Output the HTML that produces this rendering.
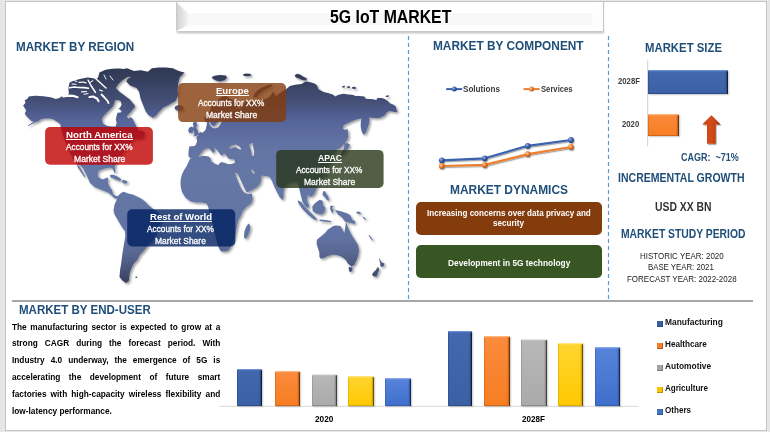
<!DOCTYPE html>
<html><head><meta charset="utf-8"><style>
html,body{margin:0;padding:0;width:770px;height:432px;overflow:hidden;background:#e6e6e6}
.t{position:absolute;white-space:nowrap;font-family:"Liberation Sans",sans-serif;transform-origin:0 0}
#frame{position:absolute;left:5px;top:1px;width:762px;height:430px;box-sizing:border-box;border:1px solid #c4c4c4;background:#fff}
.box{position:absolute;border-radius:5px}
</style></head><body>
<div id="frame"></div>
<svg style="position:absolute;left:0;top:0" width="770" height="432" viewBox="0 0 770 432">
 <defs>
  <linearGradient id="bevL" x1="0" x2="1" y1="0" y2="0"><stop offset="0" stop-color="#cfcfcf"/><stop offset="1" stop-color="#f3f3f3"/></linearGradient>
  <filter id="blur1" x="-5%" y="-50%" width="110%" height="200%"><feGaussianBlur stdDeviation="0.8"/></filter>
 </defs>
 <!-- title bevel -->
 <rect x="177" y="30.5" width="427" height="2.5" fill="#b0b0b0" filter="url(#blur1)"/>
 <rect x="176" y="2" width="428" height="29" fill="#fff"/>
 <polygon points="188,13 592,13 592,25.5 188,25.5" fill="#f8f8f8"/>
 <polygon points="176,2 188,13 188,25.5 176,31" fill="url(#bevL)"/>
 <polygon points="604,2 592,13 592,25.5 604,31" fill="#fdfdfd"/>
 <line x1="176.5" y1="2" x2="176.5" y2="31" stroke="#c8c8c8" stroke-width="1"/>
 <line x1="603.6" y1="2" x2="603.6" y2="31" stroke="#c0c0c0" stroke-width="1"/>
 <!-- dashed separators -->
 <line x1="408.5" y1="36" x2="408.5" y2="299" stroke="#5b9bd5" stroke-width="1.2" stroke-dasharray="4 3"/>
 <line x1="608.5" y1="36" x2="608.5" y2="299" stroke="#5b9bd5" stroke-width="1.2" stroke-dasharray="4 3"/>
 <line x1="12" y1="301" x2="753" y2="301" stroke="#a6a6a6" stroke-width="2"/>
 <!-- market size axis -->
 <line x1="647.7" y1="60.5" x2="647.7" y2="146.4" stroke="#d0d0d0" stroke-width="1"/>
 <!-- bar chart axis -->
 <line x1="219.3" y1="406.3" x2="638.6" y2="406.3" stroke="#d9d9d9" stroke-width="1"/>
 
 <defs>
  <linearGradient id="mapg" gradientUnits="userSpaceOnUse" x1="0" y1="66" x2="0" y2="286">
   <stop offset="0" stop-color="#2e3752"/>
   <stop offset="0.07" stop-color="#37405f"/>
   <stop offset="0.16" stop-color="#444f76"/>
   <stop offset="0.25" stop-color="#56659a"/>
   <stop offset="0.36" stop-color="#6273a3"/>
   <stop offset="0.5" stop-color="#6577a5"/>
   <stop offset="0.78" stop-color="#6172a2"/>
   <stop offset="0.86" stop-color="#57658f"/>
   <stop offset="0.91" stop-color="#4b577f"/>
   <stop offset="0.96" stop-color="#3e4868"/>
   <stop offset="1" stop-color="#313950"/>
  </linearGradient>
  <filter id="chs" x="-20%" y="-20%" width="140%" height="140%"><feGaussianBlur stdDeviation="0.35"/></filter>
  <filter id="msh" x="-5%" y="-5%" width="110%" height="110%"><feDropShadow dx="1.6" dy="1.6" stdDeviation="0.9" flood-color="#000" flood-opacity="0.4"/></filter>
 </defs>
 <g filter="url(#msh)">
  <path d="M23.1,105.5 L25.5,103.1 L24.7,100.3 L27.2,99.0 L28.8,96.6 L35.3,95.8 L43.4,96.2 L51.5,97.4 L55.5,99.0 L58.8,98.2 L61.8,96.4 L64.4,96.0 L67.0,96.8 L68.9,93.2 L68.4,88.0 L69.5,82.8 L73.4,80.8 L79.9,78.9 L83.8,78.2 L87.7,77.6 L92.9,78.2 L96.4,78.9 L98.1,77.6 L99.4,72.4 L105.5,69.8 L112.0,68.8 L118.4,68.5 L124.0,69.0 L128.0,71.0 L131.0,74.5 L131.0,76.5 L127.0,77.3 L122.8,80.0 L118.4,84.1 L115.8,88.0 L119.7,91.9 L124.5,95.5 L127.5,97.8 L130.1,99.7 L132.5,102.8 L134.5,105.0 L135.0,107.0 L133.3,108.7 L130.8,112.0 L128.3,114.5 L126.7,116.2 L128.3,118.7 L130.8,117.0 L132.5,118.7 L134.2,122.0 L135.8,125.3 L137.0,128.0 L138.9,131.0 L141.0,130.2 L144.7,132.5 L144.5,136.5 L141.0,139.2 L137.0,138.8 L133.2,139.7 L129.7,144.3 L125.0,150.0 L121.6,154.7 L118.1,159.3 L115.8,164.0 L114.7,166.2 L115.2,170.0 L115.5,173.0 L114.3,172.5 L113.2,169.7 L112.0,168.0 L109.4,167.8 L105.0,168.5 L102.9,169.1 L99.0,170.4 L97.7,173.0 L98.3,176.9 L100.5,178.5 L102.9,179.5 L105.5,178.2 L107.4,177.5 L108.3,178.5 L107.8,181.5 L108.0,183.4 L110.0,187.3 L112.0,189.9 L113.2,194.4 L115.5,195.8 L117.6,196.2 L117.3,197.8 L115.8,199.0 L113.2,197.0 L110.5,194.5 L108.0,192.5 L104.8,191.2 L101.6,189.9 L98.3,188.6 L95.0,187.3 L93.8,186.6 L89.9,182.7 L86.6,175.6 L83.4,169.1 L80.8,165.8 L79.5,165.2 L77.5,165.0 L73.3,159.4 L70.5,154.0 L67.8,148.3 L65.5,142.5 L63.6,137.2 L62.0,132.0 L60.8,127.5 L60.4,124.2 L57.1,121.7 L53.1,119.3 L49.0,118.5 L45.0,118.5 L40.9,119.3 L37.7,121.7 L34.4,121.7 L31.2,120.9 L28.8,118.5 L26.3,116.1 L24.7,113.6 L26.3,110.4 L24.7,108.0 Z M35.0,122.6 L27.6,126.3 L28.0,125.3 L34.6,121.2 Z M124.0,69.0 L126.9,68.2 L133.9,71.0 L140.8,70.3 L147.8,71.7 L151.9,68.2 L158.9,67.6 L165.8,67.6 L172.8,68.2 L176.9,70.3 L181.1,71.7 L184.6,72.4 L182.5,74.5 L179.7,77.3 L178.3,82.8 L177.6,89.8 L178.3,95.3 L175.6,100.9 L168.6,105.0 L163.0,107.8 L158.9,112.0 L156.1,115.5 L154.0,117.2 L152.5,117.8 L150.3,116.3 L148.3,115.0 L145.7,111.4 L143.1,104.9 L140.5,98.4 L139.2,91.9 L136.6,88.0 L130.1,85.4 L126.2,81.5 L127.5,78.9 L130.8,76.9 L131.0,74.5 L128.0,71.0 Z M117.6,196.2 L121.0,193.1 L123.6,191.8 L128.8,193.8 L132.7,194.4 L138.0,197.0 L141.8,199.0 L145.3,201.8 L148.0,204.5 L150.4,206.8 L153.8,209.4 L158.6,213.5 L162.0,216.5 L162.3,220.0 L160.5,223.0 L158.6,226.0 L157.0,230.0 L155.5,235.0 L153.9,238.5 L151.0,241.5 L148.0,244.5 L146.5,247.5 L143.2,251.6 L139.8,255.1 L137.4,259.7 L134.0,263.2 L131.7,267.8 L129.9,272.4 L129.3,277.1 L128.8,281.1 L125.9,282.9 L122.4,280.6 L119.5,277.1 L120.1,270.1 L121.2,263.2 L122.4,253.9 L123.5,247.0 L124.7,240.0 L125.3,236.5 L125.0,231.2 L121.9,227.0 L118.2,220.8 L114.6,214.6 L113.5,210.4 L114.6,204.2 L116.7,200.0 L117.3,197.8 Z M191.0,158.0 L189.3,157.6 L188.4,155.5 L188.5,152.7 L188.8,149.0 L189.5,146.2 L193.4,146.2 L195.6,145.3 L197.1,141.4 L196.4,136.7 L198.5,135.5 L198.8,133.5 L200.3,132.0 L202.6,132.8 L204.0,131.5 L205.7,129.7 L206.5,126.0 L207.3,122.5 L206.4,122.1 L204.5,120.5 L204.3,117.7 L206.5,115.5 L209.5,112.0 L211.0,107.0 L213.7,102.5 L217.0,100.5 L220.0,98.0 L223.0,96.5 L226.0,96.0 L230.0,99.0 L234.0,100.0 L238.0,101.0 L241.0,104.0 L238.0,106.0 L236.0,109.0 L240.0,108.0 L242.0,106.5 L243.0,104.0 L245.2,101.7 L247.0,101.5 L252.0,101.0 L256.8,101.7 L260.0,100.5 L264.0,99.5 L268.0,98.0 L271.0,95.0 L272.5,92.0 L274.0,93.0 L276.0,96.5 L280.0,93.0 L283.0,91.0 L286.0,89.3 L289.9,86.0 L295.1,84.7 L301.6,84.1 L305.5,81.5 L309.4,82.1 L314.5,83.4 L317.1,85.4 L318.4,89.3 L323.6,91.9 L328.8,93.2 L332.7,94.5 L335.3,96.4 L337.9,95.1 L343.1,93.8 L348.3,94.5 L353.5,95.1 L355.0,96.1 L359.6,96.1 L364.3,96.6 L366.1,98.9 L370.7,98.9 L374.4,99.4 L376.3,100.3 L377.2,98.0 L381.9,98.0 L384.6,98.9 L387.4,100.7 L390.2,103.5 L393.0,104.4 L395.7,106.3 L396.2,109.1 L397.6,111.9 L394.8,111.9 L392.0,111.4 L389.3,110.9 L386.5,112.8 L384.6,115.6 L380.9,117.4 L377.2,118.3 L373.5,117.9 L369.8,117.4 L369.0,117.6 L369.5,120.0 L368.9,124.0 L367.5,128.5 L366.0,132.0 L364.3,134.8 L363.0,134.0 L361.5,131.0 L360.8,127.3 L360.7,124.0 L361.0,121.0 L361.5,118.5 L357.8,118.9 L351.3,121.6 L347.0,123.5 L343.9,125.0 L342.5,128.5 L345.3,129.9 L347.4,128.5 L348.0,132.0 L348.4,136.8 L347.4,139.6 L345.3,142.4 L343.2,145.1 L340.4,147.9 L336.9,149.7 L334.0,153.0 L331.5,157.0 L333.0,160.0 L330.0,163.0 L327.4,168.7 L324.3,173.9 L322.2,179.0 L319.0,182.5 L318.0,185.0 L316.5,188.2 L314.7,193.4 L311.2,196.9 L307.8,195.2 L306.9,200.4 L309.2,205.6 L308.0,208.3 L305.5,206.5 L302.6,202.1 L300.8,195.2 L299.2,188.2 L298.5,185.0 L297.0,182.5 L294.0,181.5 L291.0,182.0 L288.0,183.5 L285.5,186.0 L284.1,188.5 L283.6,191.9 L283.6,196.6 L282.7,200.3 L279.5,197.1 L276.9,192.0 L274.4,186.9 L271.8,180.6 L269.3,176.8 L265.5,176.1 L261.7,175.5 L261.1,180.0 L260.2,183.7 L256.5,187.4 L251.9,190.2 L249.0,191.5 L246.8,192.4 L245.4,190.3 L243.7,186.8 L241.7,182.3 L239.6,177.8 L237.4,173.2 L235.2,172.8 L235.6,174.5 L236.8,178.2 L238.8,183.2 L240.8,187.8 L242.6,190.8 L245.0,193.0 L248.0,194.0 L251.9,193.6 L252.3,196.7 L252.8,198.5 L251.9,202.2 L249.1,205.0 L245.4,207.8 L242.6,211.5 L240.7,216.0 L238.2,220.3 L236.6,228.8 L234.9,237.2 L233.5,241.0 L231.5,245.7 L228.1,250.7 L225.0,251.5 L221.4,251.6 L220.0,250.0 L218.8,247.4 L218.0,245.7 L216.5,240.0 L215.0,234.0 L213.5,228.0 L212.0,222.0 L210.5,216.0 L209.0,211.0 L208.3,207.1 L206.5,203.6 L201.9,202.4 L196.0,202.4 L190.2,201.2 L185.5,197.7 L182.0,191.9 L180.8,187.0 L180.5,183.0 L180.8,179.0 L182.0,174.3 L184.1,169.9 L186.7,166.0 L188.5,162.0 L189.5,160.0 L190.3,158.6 L193.0,158.3 Z M194.5,121.5 L196.5,122.0 L197.0,125.0 L196.2,127.5 L197.5,130.0 L198.3,132.5 L199.0,134.8 L197.0,135.6 L194.5,136.2 L193.0,136.5 L194.5,134.5 L194.0,132.0 L193.0,129.0 L193.5,126.0 L192.8,123.5 Z M190.0,127.0 L192.5,126.7 L193.4,129.0 L192.5,132.5 L189.5,133.2 L188.2,131.0 L188.8,128.5 Z M175.0,106.5 L178.0,105.0 L181.5,105.5 L183.5,107.0 L183.0,109.5 L180.0,111.0 L176.5,110.5 L174.5,108.5 Z M211.6,76.9 L215.5,75.6 L220.6,75.0 L225.8,75.6 L227.1,77.6 L224.5,80.2 L219.4,81.5 L215.5,80.2 L212.9,78.9 Z M242.7,74.5 L246.0,73.6 L250.0,73.8 L251.8,75.5 L248.0,76.3 L244.0,76.0 Z M294.5,75.5 L297.0,73.8 L300.0,74.5 L303.0,76.5 L307.0,78.5 L306.0,80.5 L302.0,80.0 L299.0,78.5 L296.0,77.5 Z M253.0,97.0 L255.0,93.0 L258.0,90.0 L262.0,87.5 L267.0,85.5 L271.5,84.5 L272.0,86.0 L268.0,88.0 L263.0,90.5 L259.5,93.5 L256.0,97.5 Z M248.5,223.5 L250.3,225.5 L250.0,230.0 L248.0,235.5 L246.0,239.0 L244.0,237.5 L244.3,232.0 L246.0,227.0 Z M344.0,143.5 L347.0,143.0 L350.0,144.5 L349.0,147.0 L347.0,150.0 L345.0,153.0 L342.0,156.0 L339.5,158.0 L338.5,157.0 L341.0,153.5 L343.5,149.0 L344.5,146.0 Z M323.0,191.5 L325.0,191.0 L326.5,194.0 L328.5,197.0 L329.0,200.8 L327.0,200.0 L325.0,197.5 L322.5,195.0 Z M297.7,200.3 L301.2,202.0 L305.8,207.8 L311.6,213.6 L316.3,218.2 L317.4,219.9 L313.9,219.4 L308.1,214.7 L302.4,208.9 L298.3,203.1 Z M319.5,219.5 L325.0,220.0 L331.3,221.0 L331.0,222.3 L325.0,221.8 L319.7,221.0 Z M312.2,206.6 L315.1,203.1 L319.7,199.7 L322.6,200.8 L323.2,205.5 L325.5,207.8 L324.4,212.4 L320.9,214.7 L316.3,213.6 L312.8,211.3 Z M330.5,205.5 L334.0,206.0 L332.0,208.0 L333.6,210.0 L332.5,213.6 L331.0,211.0 L330.0,208.5 Z M334.8,210.1 L340.6,211.3 L347.5,213.6 L350.5,215.5 L352.1,219.4 L355.5,221.5 L354.4,224.0 L349.8,222.8 L345.2,221.7 L341.7,217.0 L338.2,214.7 Z M317.4,239.3 L320.8,236.5 L325.0,233.1 L327.8,229.6 L329.9,228.2 L333.3,226.1 L336.1,225.4 L340.3,226.1 L341.7,228.2 L344.4,233.1 L345.1,228.2 L345.8,223.3 L346.5,222.6 L348.6,228.9 L351.4,234.4 L354.9,240.0 L357.6,244.2 L359.0,249.7 L358.3,255.3 L356.3,260.8 L354.2,265.0 L351.4,266.4 L347.9,263.6 L345.8,260.1 L341.7,256.7 L337.5,255.3 L333.3,254.6 L327.8,256.0 L323.6,258.0 L320.8,258.8 L319.4,256.7 L319.4,252.5 L318.0,248.3 L316.7,244.2 L316.7,240.7 Z M348.6,267.0 L352.8,267.5 L352.0,271.0 L350.0,272.2 L348.8,270.0 Z M378.8,257.7 L380.8,260.8 L381.9,262.4 L384.5,263.4 L384.0,265.5 L381.9,267.1 L380.3,266.0 L380.3,263.4 L379.3,259.8 Z M378.2,267.1 L379.3,269.7 L377.7,273.3 L376.7,276.5 L373.5,276.5 L372.0,274.4 L373.5,272.3 L376.1,269.7 L377.2,267.6 Z M110.0,175.0 L113.0,174.8 L116.5,176.0 L119.5,177.8 L121.5,180.0 L120.0,181.0 L117.0,180.0 L113.5,178.5 L110.5,177.5 Z M77.5,165.2 L79.0,166.0 L82.0,170.5 L85.3,176.5 L84.5,177.2 L81.5,173.0 L78.5,168.5 L77.0,166.0 Z M121.8,180.5 L124.0,180.0 L127.0,181.0 L127.5,183.0 L125.0,183.8 L122.5,183.0 Z M342.0,86.5 L344.5,85.6 L345.0,87.3 L342.5,87.8 Z M347.0,86.5 L349.5,86.0 L350.0,88.0 L347.5,88.3 Z M352.0,87.0 L355.5,86.8 L356.0,88.8 L352.5,89.0 Z M385.6,96.0 L387.5,95.2 L389.3,95.8 L388.0,97.0 L386.0,96.9 Z M325.5,173.5 L327.0,173.0 L327.0,176.5 L325.8,177.5 Z M313.5,182.0 L315.5,181.5 L315.5,183.5 L313.8,184.0 Z M368.5,235.5 L369.5,235.0 L373.0,240.0 L372.5,241.0 Z M356.0,212.0 L359.0,211.5 L361.5,213.5 L359.5,214.0 L357.0,213.5 Z M362.0,216.5 L364.0,217.0 L366.5,219.5 L365.0,219.8 Z M114.2,103.7 L112.5,107.0 L110.0,109.5 L106.7,112.8 L103.3,116.2 L101.7,119.5 L103.3,124.0 L107.5,126.0 L111.7,126.5 L115.5,126.5 L116.7,122.8 L115.8,119.5 L116.7,115.3 L117.5,112.8 L120.8,112.4 L121.7,111.2 L120.0,109.5 L118.3,108.7 L120.0,107.8 L121.7,104.5 L120.8,101.2 L118.3,99.9 L115.0,100.3 Z M199.3,156.8 L202.1,156.1 L205.7,156.1 L208.6,156.4 L210.7,158.6 L211.4,161.4 L213.6,162.9 L215.7,164.3 L218.6,165.0 L219.3,163.6 L221.4,162.1 L225.0,162.9 L228.6,164.3 L231.4,163.9 L234.6,162.9 L235.0,160.7 L233.6,159.3 L230.7,159.3 L227.9,157.9 L226.4,155.7 L225.0,153.6 L223.6,154.3 L221.4,155.7 L219.3,152.9 L217.1,150.0 L214.6,147.5 L214.5,152.0 L212.9,152.9 L210.7,150.0 L208.9,148.2 L207.1,148.6 L205.0,148.9 L202.9,150.7 L200.7,153.6 L198.6,156.4 Z M208.9,122.3 L209.8,125.0 L211.2,127.0 L214.3,128.6 L218.2,127.2 L220.8,123.5 L222.0,121.0 L220.0,120.5 L217.5,122.5 L216.0,124.0 L214.3,126.6 L212.0,125.6 L210.5,123.5 L210.2,121.5 Z M230.2,149.1 L232.1,147.8 L235.4,147.1 L238.6,149.1 L241.2,149.7 L240.6,147.8 L238.6,145.8 L236.0,144.5 L232.1,145.2 L229.5,147.1 Z M249.5,146.2 L250.9,150.1 L251.9,155.5 L253.8,156.0 L254.3,152.0 L253.3,147.2 L252.4,142.8 L249.5,144.3 Z M251.5,171.2 L253.0,173.2 L254.6,174.0 L254.4,172.5 L252.5,169.5 L251.0,169.7 Z" fill="url(#mapg)" fill-rule="nonzero"/>
 </g>
 <g fill="none" stroke="#fff" stroke-linecap="round" stroke-linejoin="round" filter="url(#chs)"><polyline points="69.5,87.8 74,87 79,87.5 84,87.6 88.5,88.2" stroke-width="1.6"/><polyline points="88,80 91,85.5 95.5,92.5" stroke-width="1.4"/><polyline points="95.5,78.5 100.5,83 106,88" stroke-width="1.4"/><polyline points="63.5,96.5 68,95.6 73,95.8 77.5,97.2" stroke-width="2.2"/><polyline points="89.5,97 93,96.5 97,98.5 98.5,101" stroke-width="2.2"/><polyline points="101.5,94.5 104.5,97.5 107.5,101 108.5,103" stroke-width="1.8"/><polyline points="79,82.3 83,82 86,82.8" stroke-width="1.2"/><polyline points="72,84 76,84.2" stroke-width="1.1"/><polyline points="81.5,91.8 86.5,91.5" stroke-width="1.2"/><polyline points="99.5,90 102.5,91" stroke-width="1.1"/><polyline points="74,80.5 77,81.5" stroke-width="1.0"/><polyline points="90,82.5 93,80.5" stroke-width="1.0"/><polyline points="84,94.2 88,93.6" stroke-width="1.0"/><polyline points="110,76 113,80" stroke-width="0.9"/><polyline points="104,75 106,79" stroke-width="0.9"/></g>
 <ellipse cx="136.3" cy="277.2" rx="1.1" ry="0.7" fill="#3a4670"/>
 <rect x="45.1" y="127" width="107.8" height="37.7" rx="5" fill="rgba(192,0,0,0.8)"/>
 <rect x="178.1" y="83.1" width="108" height="39" rx="5" fill="rgba(132,60,12,0.8)"/>
 <rect x="276.2" y="149.9" width="107.4" height="38.1" rx="5" fill="rgba(39,54,24,0.8)"/>
 <rect x="127.2" y="209.3" width="108.1" height="37.2" rx="5" fill="rgba(0,32,96,0.8)"/>
 </svg><div class="t" style="left:66.00px;top:129.53px;font-size:9.884px;line-height:9.884px;font-weight:700;color:#fff;transform:scaleX(0.9837);">North America</div><div style="position:absolute;left:66.0px;top:139.2px;width:66.7px;height:1px;background:#fff"></div><div class="t" style="left:66.00px;top:143.17px;font-size:9.012px;line-height:9.012px;font-weight:400;color:#fff;transform:scaleX(0.9184);-webkit-text-stroke:0.3px #fff;">Accounts for XX%</div><div class="t" style="left:73.50px;top:155.09px;font-size:8.866px;line-height:8.866px;font-weight:400;color:#fff;transform:scaleX(0.9659);-webkit-text-stroke:0.3px #fff;">Market Share</div><div class="t" style="left:215.70px;top:85.86px;font-size:9.738px;line-height:9.738px;font-weight:700;color:#fff;transform:scaleX(0.9807);">Europe</div><div style="position:absolute;left:215.7px;top:95.3px;width:32.9px;height:1px;background:#fff"></div><div class="t" style="left:198.40px;top:98.97px;font-size:9.012px;line-height:9.012px;font-weight:400;color:#fff;transform:scaleX(0.9129);-webkit-text-stroke:0.3px #fff;">Accounts for XX%</div><div class="t" style="left:206.00px;top:110.97px;font-size:9.012px;line-height:9.012px;font-weight:400;color:#fff;transform:scaleX(0.9466);-webkit-text-stroke:0.3px #fff;">Market Share</div><div class="t" style="left:318.00px;top:152.53px;font-size:9.884px;line-height:9.884px;font-weight:700;color:#fff;transform:scaleX(0.8764);">APAC</div><div style="position:absolute;left:318.0px;top:162.0px;width:23.9px;height:1px;background:#fff"></div><div class="t" style="left:296.20px;top:165.97px;font-size:9.012px;line-height:9.012px;font-weight:400;color:#fff;transform:scaleX(0.9157);-webkit-text-stroke:0.3px #fff;">Accounts for XX%</div><div class="t" style="left:304.00px;top:177.97px;font-size:9.012px;line-height:9.012px;font-weight:400;color:#fff;transform:scaleX(0.9466);-webkit-text-stroke:0.3px #fff;">Market Share</div><div class="t" style="left:149.60px;top:211.53px;font-size:9.884px;line-height:9.884px;font-weight:700;color:#fff;transform:scaleX(0.9695);">Rest of World</div><div style="position:absolute;left:149.6px;top:221.3px;width:62.1px;height:1px;background:#fff"></div><div class="t" style="left:147.10px;top:224.97px;font-size:9.012px;line-height:9.012px;font-weight:400;color:#fff;transform:scaleX(0.9212);-webkit-text-stroke:0.3px #fff;">Accounts for XX%</div><div class="t" style="left:155.10px;top:236.97px;font-size:9.012px;line-height:9.012px;font-weight:400;color:#fff;transform:scaleX(0.9411);-webkit-text-stroke:0.3px #fff;">Market Share</div><svg style="position:absolute;left:0;top:0" width="770" height="432">
 <!-- line chart -->
 <defs>
  <radialGradient id="mb" cx="0.35" cy="0.35" r="0.7"><stop offset="0" stop-color="#9db4e6"/><stop offset="0.5" stop-color="#3f64b0"/><stop offset="1" stop-color="#1d3670"/></radialGradient>
  <radialGradient id="mo" cx="0.35" cy="0.35" r="0.7"><stop offset="0" stop-color="#fcd0a0"/><stop offset="0.5" stop-color="#ef8236"/><stop offset="1" stop-color="#a04a10"/></radialGradient>
  <filter id="lsh" x="-10%" y="-50%" width="120%" height="200%"><feDropShadow dx="0.8" dy="1.2" stdDeviation="0.6" flood-color="#000" flood-opacity="0.35"/></filter>
 </defs>
 <g filter="url(#lsh)">
 <polyline points="441.8,160.3 484.7,158.3 527.7,145.8 571,140" fill="none" stroke="#3c62ad" stroke-width="2.2" stroke-linejoin="round"/>
 <polyline points="441.8,166 484.7,164.9 527.7,154.1 571,147" fill="none" stroke="#ee7f2f" stroke-width="2.2" stroke-linejoin="round"/>
 <circle cx="441.8" cy="160.3" r="2.9" fill="url(#mb)"/><circle cx="484.7" cy="158.3" r="2.9" fill="url(#mb)"/><circle cx="527.7" cy="145.8" r="2.9" fill="url(#mb)"/><circle cx="571" cy="140" r="2.9" fill="url(#mb)"/>
 <circle cx="441.8" cy="166" r="2.9" fill="url(#mo)"/><circle cx="484.7" cy="164.9" r="2.9" fill="url(#mo)"/><circle cx="527.7" cy="154.1" r="2.9" fill="url(#mo)"/><circle cx="571" cy="147" r="2.9" fill="url(#mo)"/>
 </g>
 <line x1="446.2" y1="89.1" x2="462.2" y2="89.1" stroke="#3c62ad" stroke-width="2"/>
 <circle cx="454.3" cy="89.1" r="2.5" fill="url(#mb)"/>
 <line x1="523.6" y1="89.1" x2="539.6" y2="89.1" stroke="#ee7f2f" stroke-width="2"/>
 <circle cx="531.6" cy="89.1" r="2.5" fill="url(#mo)"/>
 <!-- arrow -->
 <defs><linearGradient id="arr" x1="0" x2="1" y1="0" y2="0"><stop offset="0" stop-color="#b33c10"/><stop offset="0.4" stop-color="#d64c18"/><stop offset="0.78" stop-color="#bf4112"/><stop offset="1" stop-color="#6e2204"/></linearGradient></defs>
 <polygon points="711.4,115.2 720.7,124.6 715.8,124.6 715.8,143.8 707,143.8 707,124.6 702.3,124.6" fill="url(#arr)" filter="url(#lsh)"/>
</svg>
<div style="position:absolute;left:237.2px;top:369.1px;width:24.7px;height:36.9px;background:linear-gradient(180deg,#4368ae,#3b60a6);box-shadow:inset 0 1.3px 0 #6a8fd6,inset -1px 0 0 #101c38,inset -2.3px 0 0 #2c4c8a,inset 0 -1px 0 #2c4c8a,inset 0.6px 0 0 #2c4c8a,1px 1px 1.5px rgba(0,0,0,.22)"></div><div style="position:absolute;left:275.1px;top:370.9px;width:24.7px;height:35.1px;background:linear-gradient(180deg,#fb8b3e,#f67d22);box-shadow:inset 0 1.3px 0 #fdb57a,inset -1px 0 0 #6a3008,inset -2.3px 0 0 #d0661a,inset 0 -1px 0 #d0661a,inset 0.6px 0 0 #d0661a,1px 1px 1.5px rgba(0,0,0,.22)"></div><div style="position:absolute;left:312.0px;top:374.0px;width:24.7px;height:32.0px;background:linear-gradient(180deg,#b8b8b8,#aaaaaa);box-shadow:inset 0 1.3px 0 #e4e4e4,inset -1px 0 0 #404040,inset -2.3px 0 0 #8e8e8e,inset 0 -1px 0 #8e8e8e,inset 0.6px 0 0 #8e8e8e,1px 1px 1.5px rgba(0,0,0,.22)"></div><div style="position:absolute;left:348.4px;top:376.1px;width:25.2px;height:29.9px;background:linear-gradient(180deg,#ffd530,#ffc800);box-shadow:inset 0 1.3px 0 #ffe680,inset -1px 0 0 #6a5000,inset -2.3px 0 0 #d8a800,inset 0 -1px 0 #d8a800,inset 0.6px 0 0 #d8a800,1px 1px 1.5px rgba(0,0,0,.22)"></div><div style="position:absolute;left:385.3px;top:378.2px;width:25.4px;height:27.8px;background:linear-gradient(180deg,#5884da,#3f6fcc);box-shadow:inset 0 1.3px 0 #86a8ea,inset -1px 0 0 #142850,inset -2.3px 0 0 #3560b0,inset 0 -1px 0 #3560b0,inset 0.6px 0 0 #3560b0,1px 1px 1.5px rgba(0,0,0,.22)"></div><div style="position:absolute;left:447.9px;top:331.1px;width:23.9px;height:74.9px;background:linear-gradient(180deg,#4368ae,#3b60a6);box-shadow:inset 0 1.3px 0 #6a8fd6,inset -1px 0 0 #101c38,inset -2.3px 0 0 #2c4c8a,inset 0 -1px 0 #2c4c8a,inset 0.6px 0 0 #2c4c8a,1px 1px 1.5px rgba(0,0,0,.22)"></div><div style="position:absolute;left:484.2px;top:336.1px;width:25.7px;height:69.9px;background:linear-gradient(180deg,#fb8b3e,#f67d22);box-shadow:inset 0 1.3px 0 #fdb57a,inset -1px 0 0 #6a3008,inset -2.3px 0 0 #d0661a,inset 0 -1px 0 #d0661a,inset 0.6px 0 0 #d0661a,1px 1px 1.5px rgba(0,0,0,.22)"></div><div style="position:absolute;left:521.0px;top:339.1px;width:25.7px;height:66.9px;background:linear-gradient(180deg,#b8b8b8,#aaaaaa);box-shadow:inset 0 1.3px 0 #e4e4e4,inset -1px 0 0 #404040,inset -2.3px 0 0 #8e8e8e,inset 0 -1px 0 #8e8e8e,inset 0.6px 0 0 #8e8e8e,1px 1px 1.5px rgba(0,0,0,.22)"></div><div style="position:absolute;left:558.2px;top:343.2px;width:25.3px;height:62.8px;background:linear-gradient(180deg,#ffd530,#ffc800);box-shadow:inset 0 1.3px 0 #ffe680,inset -1px 0 0 #6a5000,inset -2.3px 0 0 #d8a800,inset 0 -1px 0 #d8a800,inset 0.6px 0 0 #d8a800,1px 1px 1.5px rgba(0,0,0,.22)"></div><div style="position:absolute;left:594.7px;top:347.0px;width:25.1px;height:59.0px;background:linear-gradient(180deg,#5884da,#3f6fcc);box-shadow:inset 0 1.3px 0 #86a8ea,inset -1px 0 0 #142850,inset -2.3px 0 0 #3560b0,inset 0 -1px 0 #3560b0,inset 0.6px 0 0 #3560b0,1px 1px 1.5px rgba(0,0,0,.22)"></div><div style="position:absolute;left:648.3px;top:70.0px;width:79.5px;height:24.2px;background:linear-gradient(180deg,#4368ae,#3b60a6);box-shadow:inset 0 1.3px 0 #6a8fd6,inset -1px 0 0 #101c38,inset -2.3px 0 0 #2c4c8a,inset 0 -1px 0 #2c4c8a,inset 0.6px 0 0 #2c4c8a,1px 1px 1.5px rgba(0,0,0,.22)"></div><div style="position:absolute;left:648.3px;top:114.0px;width:30.7px;height:22.1px;background:linear-gradient(180deg,#fb8b3e,#f67d22);box-shadow:inset 0 1.3px 0 #fdb57a,inset -1px 0 0 #6a3008,inset -2.3px 0 0 #d0661a,inset 0 -1px 0 #d0661a,inset 0.6px 0 0 #d0661a,1px 1px 1.5px rgba(0,0,0,.22)"></div>
<div class="box" style="left:416px;top:202px;width:186.2px;height:32.7px;background:#843c0c"></div>
<div class="box" style="left:416px;top:245px;width:186.2px;height:32.5px;background:#375623"></div>
<div style="position:absolute;left:657.3px;top:321.4px;width:5.5px;height:5.7px;background:#3b5ea5;box-shadow:inset -1px -1px 0 rgba(0,0,0,.25)"></div><div style="position:absolute;left:657.3px;top:343.3px;width:5.5px;height:5.7px;background:#f47f2a;box-shadow:inset -1px -1px 0 rgba(0,0,0,.25)"></div><div style="position:absolute;left:657.3px;top:365.2px;width:5.5px;height:5.7px;background:#a5a5a5;box-shadow:inset -1px -1px 0 rgba(0,0,0,.25)"></div><div style="position:absolute;left:657.3px;top:387.1px;width:5.5px;height:5.7px;background:#ffc000;box-shadow:inset -1px -1px 0 rgba(0,0,0,.25)"></div><div style="position:absolute;left:657.3px;top:409.0px;width:5.5px;height:5.7px;background:#4472c4;box-shadow:inset -1px -1px 0 rgba(0,0,0,.25)"></div>
<div class="t" style="left:329.60px;top:8.34px;font-size:18.023px;line-height:18.023px;font-weight:700;color:#000;transform:scaleX(0.8785);">5G IoT MARKET</div><div class="t" style="left:16.40px;top:39.83px;font-size:13.081px;line-height:13.081px;font-weight:700;color:#1f4e79;transform:scaleX(0.8911);">MARKET BY REGION</div><div class="t" style="left:432.70px;top:39.46px;font-size:13.517px;line-height:13.517px;font-weight:700;color:#1f4e79;transform:scaleX(0.8781);">MARKET BY COMPONENT</div><div class="t" style="left:644.50px;top:41.10px;font-size:13.227px;line-height:13.227px;font-weight:700;color:#1f4e79;transform:scaleX(0.8589);">MARKET SIZE</div><div class="t" style="left:450.00px;top:182.88px;font-size:13.372px;line-height:13.372px;font-weight:700;color:#1f4e79;transform:scaleX(0.8931);">MARKET DYNAMICS</div><div class="t" style="left:618.30px;top:172.36px;font-size:12.209px;line-height:12.209px;font-weight:700;color:#1f4e79;transform:scaleX(0.8642);">INCREMENTAL GROWTH</div><div class="t" style="left:620.80px;top:228.36px;font-size:12.209px;line-height:12.209px;font-weight:700;color:#1f4e79;transform:scaleX(0.8484);">MARKET STUDY PERIOD</div><div class="t" style="left:18.70px;top:303.57px;font-size:12.791px;line-height:12.791px;font-weight:700;color:#1f4e79;transform:scaleX(0.9018);">MARKET BY END-USER</div><div class="t" style="left:681.10px;top:153.24px;font-size:10.465px;line-height:10.465px;font-weight:700;color:#1f4e79;transform:scaleX(0.8606);white-space:pre;">CAGR:  ~71%</div><div class="t" style="left:654.70px;top:200.59px;font-size:12.064px;line-height:12.064px;font-weight:700;color:#333;transform:scaleX(0.8601);">USD XX BN</div><div class="t" style="left:463.30px;top:83.88px;font-size:9.593px;line-height:9.593px;font-weight:700;color:#3a3a3a;transform:scaleX(0.8468);">Solutions</div><div class="t" style="left:540.80px;top:83.88px;font-size:9.593px;line-height:9.593px;font-weight:700;color:#3a3a3a;transform:scaleX(0.8005);">Services</div><div class="t" style="left:618.10px;top:76.66px;font-size:8.430px;line-height:8.430px;font-weight:700;color:#404040;transform:scaleX(0.9163);">2028F</div><div class="t" style="left:622.10px;top:119.96px;font-size:8.430px;line-height:8.430px;font-weight:700;color:#404040;transform:scaleX(0.9170);">2020</div><div class="t" style="left:426.50px;top:208.55px;font-size:9.157px;line-height:9.157px;font-weight:700;color:#fff;transform:scaleX(0.8834);">Increasing concerns over data privacy and</div><div class="t" style="left:492.90px;top:218.65px;font-size:9.157px;line-height:9.157px;font-weight:700;color:#fff;transform:scaleX(0.8856);">security</div><div class="t" style="left:447.60px;top:257.70px;font-size:9.448px;line-height:9.448px;font-weight:700;color:#fff;transform:scaleX(0.8832);">Development in 5G technology</div><div class="t" style="left:639.80px;top:252.16px;font-size:8.430px;line-height:8.430px;font-weight:400;color:#222;transform:scaleX(0.9446);">HISTORIC YEAR: 2020</div><div class="t" style="left:648.40px;top:263.12px;font-size:8.721px;line-height:8.721px;font-weight:400;color:#222;transform:scaleX(0.8949);">BASE YEAR: 2021</div><div class="t" style="left:627.30px;top:275.32px;font-size:8.721px;line-height:8.721px;font-weight:400;color:#222;transform:scaleX(0.9141);">FORECAST YEAR: 2022-2028</div><div class="t" style="left:314.90px;top:414.66px;font-size:8.430px;line-height:8.430px;font-weight:700;color:#000;transform:scaleX(0.9810);">2020</div><div class="t" style="left:522.00px;top:414.66px;font-size:8.430px;line-height:8.430px;font-weight:700;color:#000;transform:scaleX(0.9624);">2028F</div><div class="t" style="left:665.20px;top:319.29px;font-size:8.285px;line-height:8.285px;font-weight:700;color:#111;transform:scaleX(1.0162);">Manufacturing</div><div class="t" style="left:665.20px;top:341.19px;font-size:8.285px;line-height:8.285px;font-weight:700;color:#111;transform:scaleX(0.9889);">Healthcare</div><div class="t" style="left:665.20px;top:363.09px;font-size:8.285px;line-height:8.285px;font-weight:700;color:#111;transform:scaleX(1.0139);">Automotive</div><div class="t" style="left:665.20px;top:384.99px;font-size:8.285px;line-height:8.285px;font-weight:700;color:#111;transform:scaleX(0.9742);">Agriculture</div><div class="t" style="left:665.20px;top:406.89px;font-size:8.285px;line-height:8.285px;font-weight:700;color:#111;transform:scaleX(0.9774);">Others</div>
<div class="t" style="left:12px;top:322.52px;width:219.26px;font-size:8.721px;line-height:8.721px;font-weight:700;color:#000;transform:scaleX(0.95);text-align:justify;text-align-last:justify;white-space:normal">The manufacturing sector is expected to grow at a</div><div class="t" style="left:12px;top:339.37px;width:219.26px;font-size:8.721px;line-height:8.721px;font-weight:700;color:#000;transform:scaleX(0.95);text-align:justify;text-align-last:justify;white-space:normal">strong CAGR during the forecast period. With</div><div class="t" style="left:12px;top:356.22px;width:219.26px;font-size:8.721px;line-height:8.721px;font-weight:700;color:#000;transform:scaleX(0.95);text-align:justify;text-align-last:justify;white-space:normal">Industry 4.0 underway, the emergence of 5G is</div><div class="t" style="left:12px;top:373.07px;width:219.26px;font-size:8.721px;line-height:8.721px;font-weight:700;color:#000;transform:scaleX(0.95);text-align:justify;text-align-last:justify;white-space:normal">accelerating the development of future smart</div><div class="t" style="left:12px;top:389.92px;width:219.26px;font-size:8.721px;line-height:8.721px;font-weight:700;color:#000;transform:scaleX(0.95);text-align:justify;text-align-last:justify;white-space:normal">factories with high-capacity wireless flexibility and</div><div class="t" style="left:12px;top:406.77px;width:219.26px;font-size:8.721px;line-height:8.721px;font-weight:700;color:#000;transform:scaleX(0.95);text-align:left;text-align-last:left;white-space:normal">low-latency performance.</div>
</body></html>
